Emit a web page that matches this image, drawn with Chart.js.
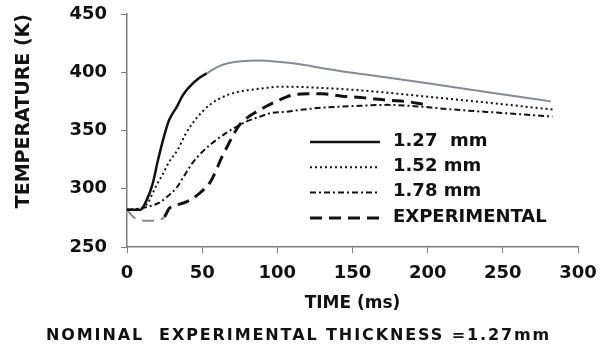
<!DOCTYPE html>
<html>
<head>
<meta charset="utf-8">
<script src="https://cdn.jsdelivr.net/npm/chart.js@4.4.1/dist/chart.umd.min.js"></script>
<style>
  html, body { margin: 0; padding: 0; background: #fff; }
  #wrap { position: relative; width: 605px; height: 349px; }
  #note { position: absolute; left: 46px; top: 325px; font: bold 16px "DejaVu Sans"; letter-spacing: 1.9px; color: #111; white-space: nowrap; }
</style>
</head>
<body>
<div id="wrap">
  <canvas id="temp_chart" width="605" height="349"></canvas>
  <div id="note">NOMINAL&nbsp; EXPERIMENTAL THICKNESS =1.27mm</div>
</div>
<script>
// values: time (ms) and temperature (K)
var t127 = [0, 9, 13, 17, 20.5, 24, 28, 33, 37, 41.5, 48, 53, 61, 68, 76, 88, 100, 114, 130, 150, 173, 200, 239, 282];
var T127 = [282, 282, 290, 304, 324, 342, 359, 370, 380, 387.5, 395, 399, 405, 408, 409.5, 410, 409, 407, 403.5, 399.5, 395.5, 390.5, 383, 375];

var t152 = [0, 6, 10.5, 14, 17, 20, 24, 28, 33.5, 39, 43.5, 50, 55, 61, 68, 75, 83, 92, 101, 110, 130, 150, 173, 200, 239, 283];
var T152 = [282, 282, 284, 288, 296, 304, 313, 323, 333, 347, 356, 366, 372, 377, 381, 383.5, 385, 386.5, 387.5, 387.5, 386.5, 385, 382.5, 379, 374, 368];

var t178 = [0, 8.5, 15, 21.5, 26, 33, 38, 43.5, 50, 56.5, 65.5, 72.5, 79, 87.5, 96, 105, 114, 129, 151, 173, 195, 217, 250, 283];
var T178 = [282, 283, 285, 288, 292.5, 301, 311, 322, 331.5, 339, 347.5, 353, 357.5, 361.5, 365, 366, 367.5, 369.5, 371, 372, 370.5, 368, 365, 362];

var tExp = [0, 4, 9, 15, 21, 25, 28, 33, 38, 43, 49, 55, 59, 63, 67, 71, 75, 80, 86, 93, 101, 110, 120, 130, 143, 158, 173, 188, 199];
var TExp = [282, 276, 273, 272.5, 273, 276, 283, 286, 288, 291, 297, 305, 315, 327, 337, 347, 355, 361, 366, 371, 376, 380.5, 381.5, 381.5, 379.5, 378, 376, 374.5, 372];

var seriesNames = ['1.27  mm', '1.52 mm', '1.78 mm', 'EXPERIMENTAL'];
var xTicks = [0, 50, 100, 150, 200, 250, 300];
var yTicks = [250, 300, 350, 400, 450];

var INK = '#111111';
var GREY = '#858a96';
var AXIS = '#7c7c7c';

function pts(xs, ys) {
  return xs.map(function(x, i){ return {x: x, y: ys[i]}; });
}

// draws the key inside the plot, lower right
var keyPlugin = {
  id: 'keyBox',
  afterDraw: function(chart) {
    var ctx = chart.ctx;
    chart.data.datasets.forEach(function(ds, i){
      var y = 142 + i * 25.3;
      ctx.save();
      ctx.strokeStyle = INK;
      ctx.lineWidth = ds.borderWidth;
      ctx.setLineDash(ds.borderDash || []);
      ctx.beginPath();
      ctx.moveTo(310, y);
      ctx.lineTo(380, y);
      ctx.stroke();
      ctx.setLineDash([]);
      ctx.fillStyle = INK;
      ctx.font = 'bold 18px "DejaVu Sans"';
      ctx.textBaseline = 'middle';
      ctx.fillText(ds.label, 393, y - 1);
      ctx.restore();
    });
  }
};

var tickFont = {family: 'DejaVu Sans', size: 18, weight: 'bold'};

var chart = new Chart(document.getElementById('temp_chart'), {
  type: 'line',
  data: {
    datasets: [{
      label: seriesNames[0],
      data: pts(t127, T127),
      borderColor: INK,
      borderWidth: 2.5,
      segment: {
        borderColor: function(c){ return c.p0.parsed.x >= 53 ? GREY : INK; },
        borderWidth: function(c){ return c.p0.parsed.x >= 53 ? 2 : 2.5; }
      }
    }, {
      label: seriesNames[1],
      data: pts(t152, T152),
      borderColor: INK,
      borderWidth: 2,
      borderDash: [2, 3]
    }, {
      label: seriesNames[2],
      data: pts(t178, T178),
      borderColor: INK,
      borderWidth: 2,
      borderDash: [6, 3, 2, 3]
    }, {
      label: seriesNames[3],
      data: pts(tExp, TExp),
      borderColor: INK,
      borderWidth: 3,
      borderDash: [12, 7],
      segment: {
        borderColor: function(c){ return c.p0.parsed.x < 24 ? GREY : INK; },
        borderWidth: function(c){ return c.p0.parsed.x < 24 ? 2 : 3; }
      }
    }]
  },
  options: {
    responsive: false,
    animation: false,
    layout: { padding: { top: 14, right: 27, bottom: 31, left: 0 } },
    elements: {
      point: { radius: 0 },
      line: { cubicInterpolationMode: 'monotone', fill: false }
    },
    plugins: {
      legend: { display: false },
      tooltip: { enabled: false }
    },
    scales: {
      x: {
        type: 'linear',
        min: 0, max: 300,
        afterFit: function(s){ s.height = 71; s.paddingLeft = 0; s.paddingRight = 0; },
        afterBuildTicks: function(s){ s.ticks = xTicks.map(function(v){ return {value: v}; }); },
        border: { display: true, color: AXIS, width: 1.5 },
        grid: { drawOnChartArea: false, drawTicks: true, tickLength: 6, color: AXIS },
        ticks: { color: INK, font: tickFont, padding: 10, maxRotation: 0 },
        title: {
          display: true, text: 'TIME (ms)', color: INK,
          font: {family: 'DejaVu Sans', size: 17, weight: 'bold'},
          padding: { top: 4, bottom: 4 }
        }
      },
      y: {
        min: 250, max: 450,
        afterFit: function(s){ s.width = 127; s.paddingTop = 0; s.paddingBottom = 0; },
        afterBuildTicks: function(s){ s.ticks = yTicks.map(function(v){ return {value: v}; }); },
        border: { display: true, color: AXIS, width: 1.5 },
        grid: { drawOnChartArea: false, drawTicks: true, tickLength: 6, color: AXIS },
        ticks: { color: INK, font: tickFont, padding: 14 },
        title: {
          display: true, text: 'TEMPERATURE (K)', color: INK, align: 'end',
          font: {family: 'DejaVu Sans', size: 19, weight: 'bold'},
          padding: { top: 13, bottom: 0 }
        }
      }
    }
  },
  plugins: [keyPlugin]
});
</script>
</body>
</html>
